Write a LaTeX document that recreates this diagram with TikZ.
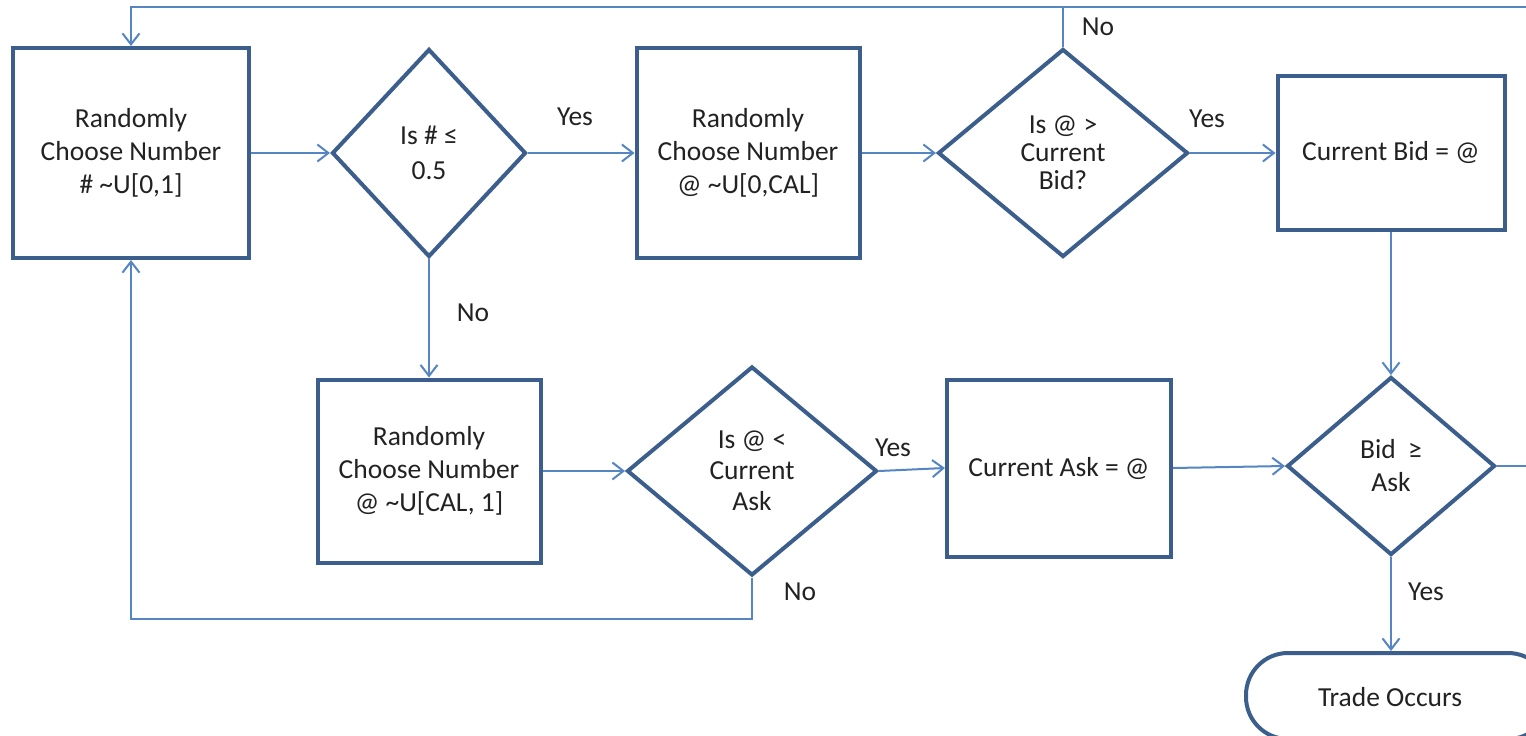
\documentclass[tikz,border=0pt]{standalone}
\usepackage{fontspec}
\setmainfont{Carlito}
\usetikzlibrary{shapes.geometric,arrows.meta}
\definecolor{boxline}{HTML}{3B5E8C}
\definecolor{connc}{HTML}{5585C2}
\definecolor{txt}{HTML}{222222}
\begin{document}
\begin{tikzpicture}[x=1pt,y=-1pt,
  proc/.style={draw=boxline, line width=4pt, fill=white, align=center, text=txt, inner sep=0pt, font=\fontsize{27.5}{33}\selectfont},
  dec/.style={diamond, draw=boxline, line width=4pt, fill=white, align=center, text=txt, inner sep=0pt, aspect=1},
  conn/.style={draw=connc, line width=2pt, -{Straight Barb[length=11pt,width=17pt,line width=2pt]}},
  connline/.style={draw=connc, line width=2pt},
  lbl/.style={text=txt, font=\fontsize{27.5}{33}\selectfont, inner sep=0pt}]
\clip (0,0) rectangle (1526,736);
\fill[white] (0,0) rectangle (1526,736);
% nodes
\node[proc, minimum width=236pt, minimum height=210pt] (a) at (131,153) {Randomly\\Choose Number\\\# \textasciitilde U[0,1]};
\node[dec, minimum width=194pt, minimum height=208pt, font=\fontsize{27.5}{35}\selectfont] (d1) at (429,153) {Is \# ≤\\0.5};
\node[proc, minimum width=223pt, minimum height=210pt] (b) at (748,153) {Randomly\\Choose Number\\@ \textasciitilde U[0,CAL]};
\node[dec, minimum width=250pt, minimum height=208pt, font=\fontsize{27.5}{28}\selectfont] (d2) at (1063,153) {Is @ >\\Current\\Bid?};
\node[proc, minimum width=227pt, minimum height=154pt] (c) at (1391,153) {Current Bid = @};
\node[proc, minimum width=223pt, minimum height=183pt] (d) at (429,471) {Randomly\\Choose Number\\@ \textasciitilde U[CAL, 1]};
\node[dec, minimum width=250pt, minimum height=209pt, font=\fontsize{27.5}{31}\selectfont] (d3) at (752,471) {Is @ <\\Current\\Ask};
\node[proc, minimum width=224pt, minimum height=177pt] (e) at (1059,468) {Current Ask = @};
\node[dec, minimum width=208pt, minimum height=178pt, font=\fontsize{27.5}{33}\selectfont] (d4) at (1391,466) {Bid\ \ ≥\\Ask};
\node[proc, rounded corners=42pt, minimum width=304pt, minimum height=86pt] (t) at (1398,696) {};
\node[lbl] (tt) at (1390,697) {Trade Occurs};
% connectors
\draw[conn] (a.east) -- (d1.west);
\draw[conn] (d1.east) -- (b.west);
\draw[conn] (b.east) -- (d2.west);
\draw[conn] (d2.east) -- (c.west);
\draw[conn] (c.south) -- (d4.north);
\draw[conn] (d1.south) -- (d.north);
\draw[conn] (d.east) -- (d3.west);
\draw[conn] (d3.east) -- (e.west);
\draw[conn] (e.east) -- (d4.west);
\draw[conn] (d4.south) -- (t.north -| d4.south);
\draw[conn] (d3.south) -- ++(0,41) -| (a.south);
\draw[conn] (d4.east) -- ++(60,0) -- ++(0,-459) -| (a.north);
\coordinate (tl) at (1063,7);
\draw[connline] (d2.north) -- (tl);
% labels
\node[lbl] (l1) at (575,117) {Yes};
\node[lbl] (l2) at (1098,27) {No};
\node[lbl] (l3) at (1207,119) {Yes};
\node[lbl] (l4) at (473,313) {No};
\node[lbl] (l5) at (893,448) {Yes};
\node[lbl] (l6) at (800,592) {No};
\node[lbl] (l7) at (1426,592) {Yes};
\end{tikzpicture}
\end{document}
